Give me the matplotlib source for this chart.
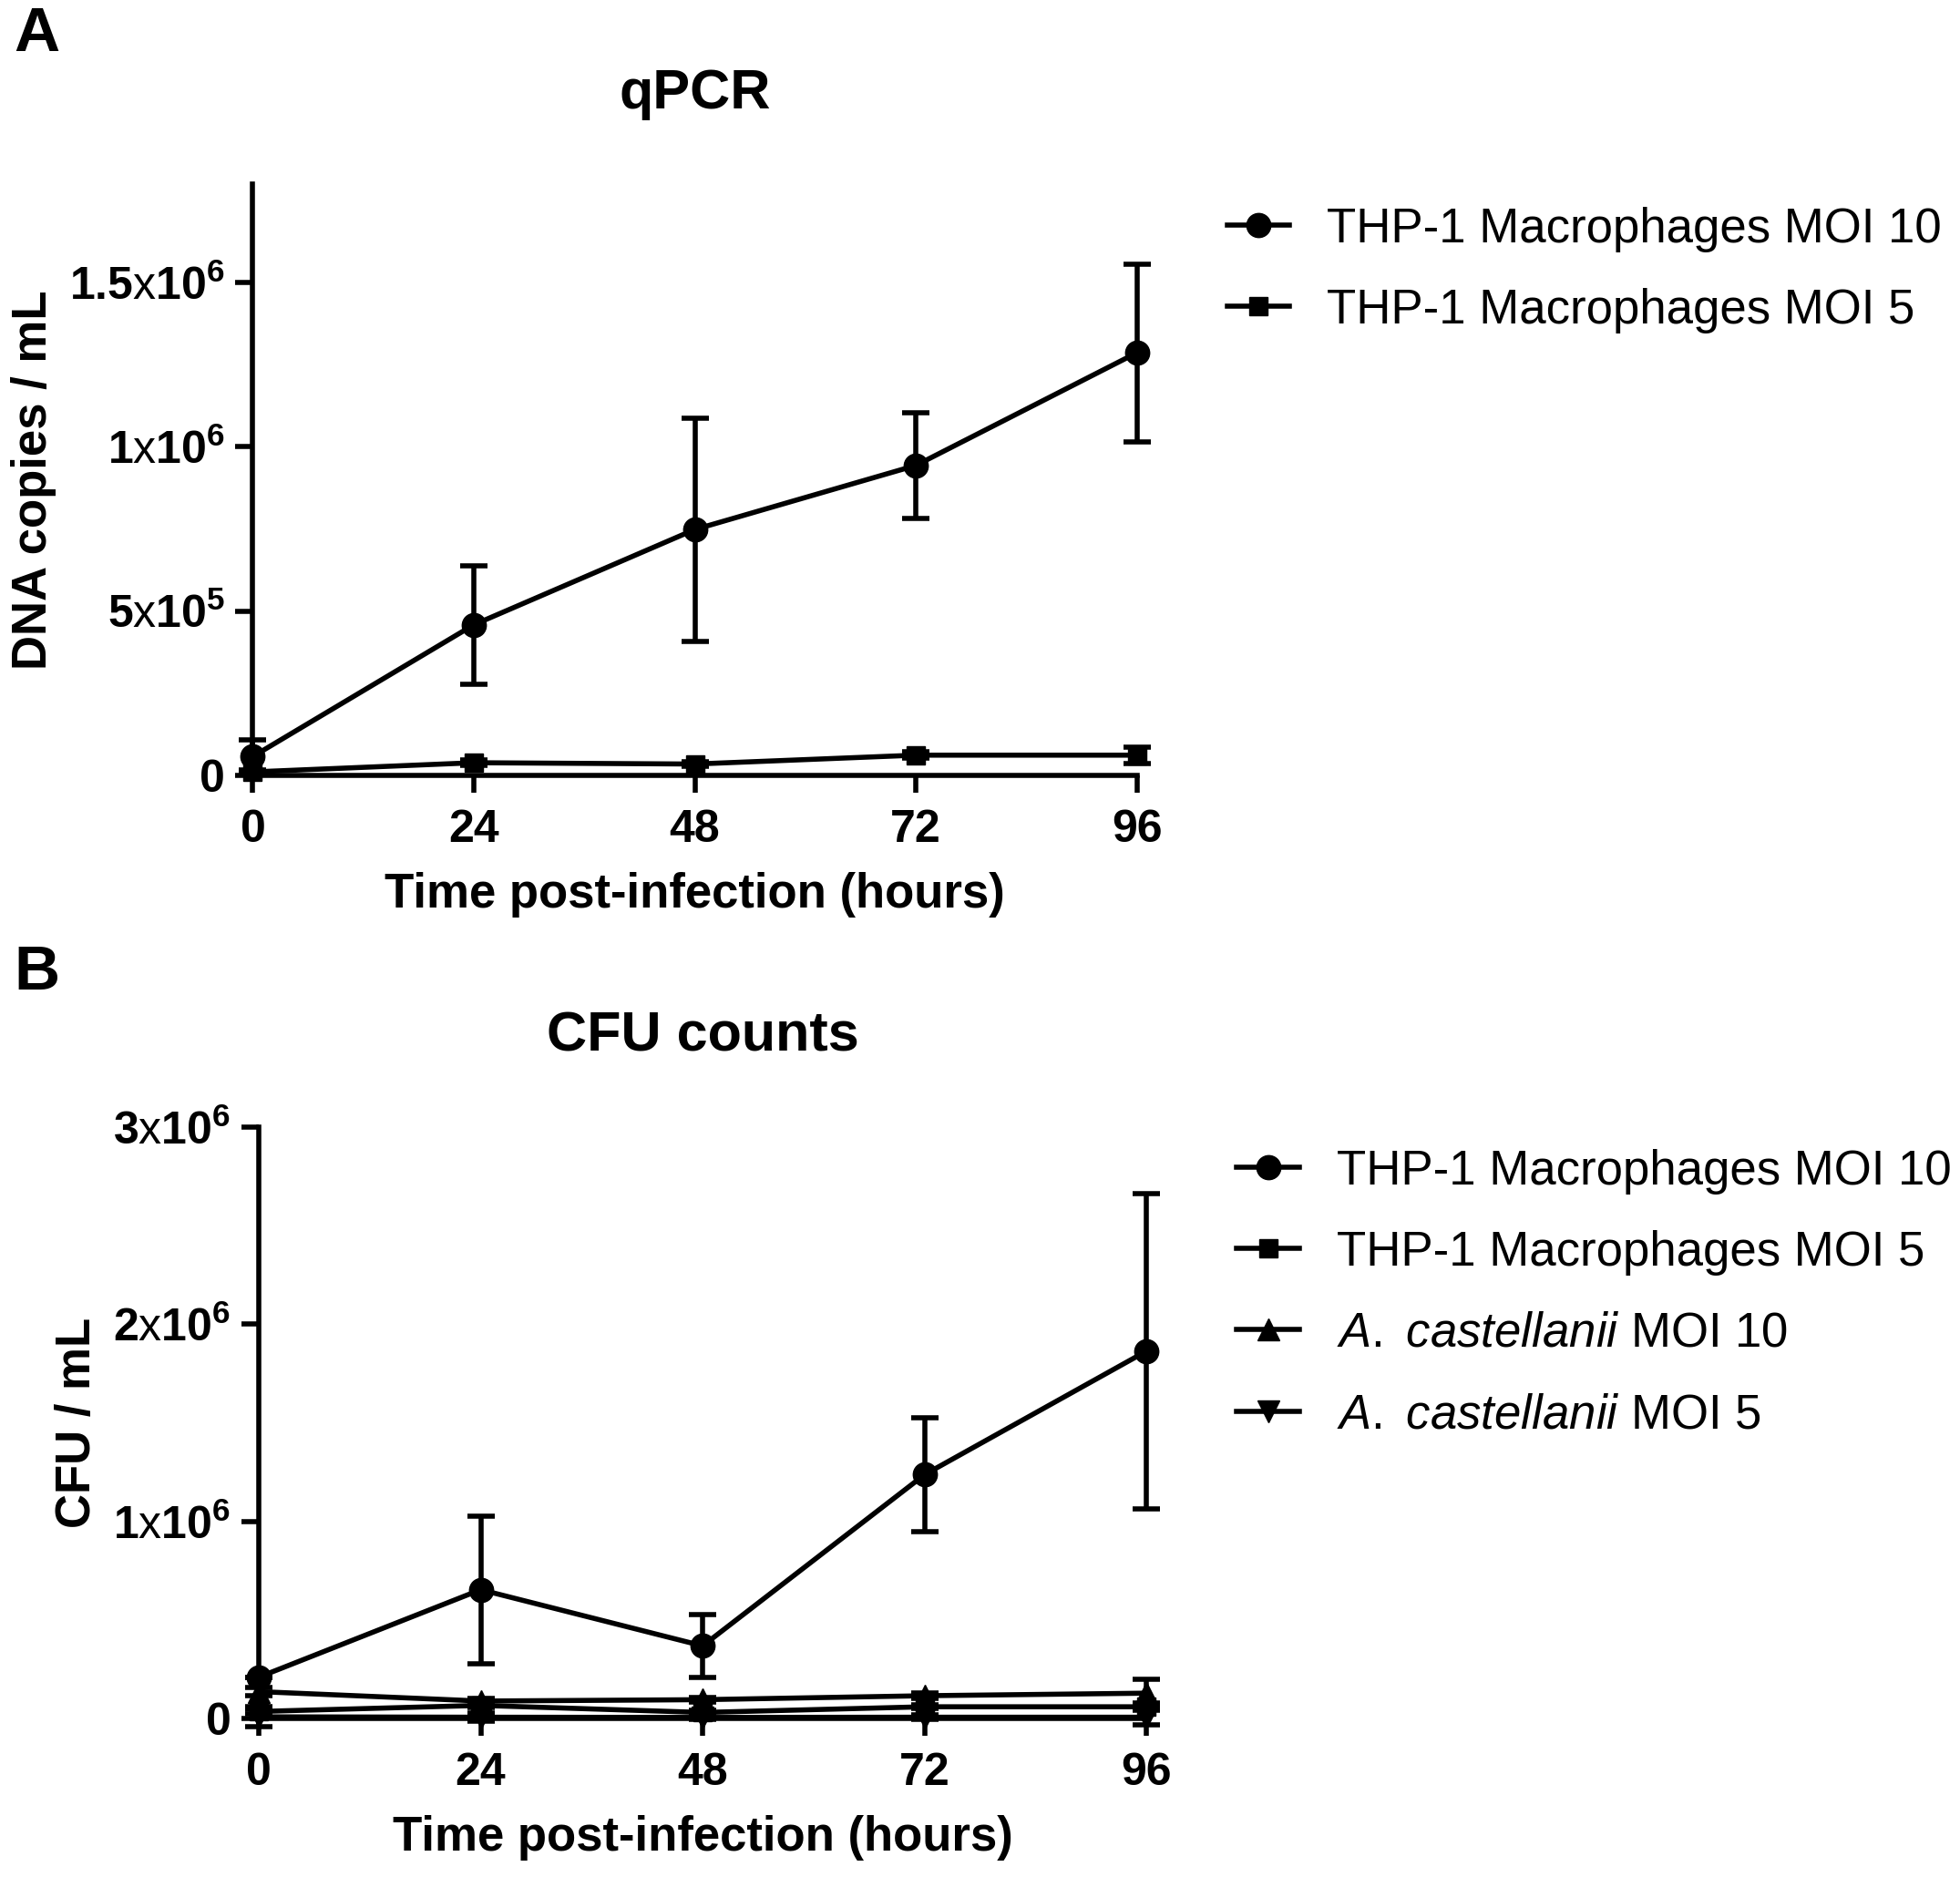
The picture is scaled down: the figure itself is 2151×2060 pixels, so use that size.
import matplotlib
matplotlib.use('Agg')
import matplotlib.pyplot as plt
import numpy as np

plt.rcParams['font.family'] = ['Liberation Sans', 'DejaVu Sans']
plt.rcParams['mathtext.fontset'] = 'custom'
plt.rcParams['mathtext.rm'] = 'Liberation Sans'
plt.rcParams['mathtext.it'] = 'Liberation Sans:italic'
plt.rcParams['mathtext.bf'] = 'Liberation Sans:bold'

# ---------------- data ----------------
hours = [0, 24, 48, 72, 96]

# qPCR (DNA copies / mL)
qpcr_moi10 = [57e3, 458e3, 748e3, 943e3, 1.286e6]
qpcr_moi10_err = [50e3, 180e3, 340e3, 160e3, 270e3]
qpcr_moi5 = [10e3, 38e3, 34e3, 61e3, 61e3]
qpcr_moi5_err = [5e3, 8e3, 8e3, 10e3, 25e3]

# CFU counts (CFU / mL)
cfu_mac10 = [209e3, 653e3, 368e3, 1.237e6, 1.864e6]
cfu_mac10_err = [0, 375e3, 160e3, 290e3, 800e3]
cfu_mac5 = [35e3, 66e3, 30e3, 59e3, 59e3]
cfu_mac5_err = [10e3, 10e3, 10e3, 10e3, 20e3]
cfu_ac10 = [136e3, 88e3, 95e3, 115e3, 128e3]
cfu_ac10_err = [20e3, 15e3, 10e3, 15e3, 70e3]
cfu_ac5 = [8e3, 6e3, 5e3, 6e3, 6e3]
cfu_ac5_err = [50e3, 20e3, 10e3, 10e3, 40e3]

qpcr_labels = ['THP-1 Macrophages MOI 10', 'THP-1 Macrophages MOI 5']
cfu_labels = ['THP-1 Macrophages MOI 10', 'THP-1 Macrophages MOI 5',
              r'$\mathit{A.}$ $\mathit{castellanii}$ MOI 10',
              r'$\mathit{A.}$ $\mathit{castellanii}$ MOI 5']

qpcr_yticks = [0, 5e5, 1e6, 1.5e6]
cfu_yticks = [0, 1e6, 2e6, 3e6]


def tick_label(mant, exp):
    if mant == '0':
        return '0'
    return r'$\mathbf{%s}\mathrm{x}\mathbf{10^{%s}}$' % (mant, exp)


qpcr_yticklabels = ['0', tick_label('5', '5'), tick_label('1', '6'), tick_label('1.5', '6')]
cfu_yticklabels = ['0', tick_label('1', '6'), tick_label('2', '6'), tick_label('3', '6')]

LW = 4
fig = plt.figure(figsize=(21.51, 20.60), dpi=100)


def style_axes(ax, yticks, yticklabels, ymax, ylabel, title):
    ax.set_xlim(0, 96)
    ax.set_ylim(0, ymax)
    ax.set_xticks(hours)
    ax.set_xticklabels([str(h) for h in hours], fontsize=36, fontweight='bold')
    ax.set_yticks(yticks)
    ax.set_yticklabels(yticklabels, fontsize=36, fontweight='bold')
    for s in ['top', 'right']:
        ax.spines[s].set_visible(False)
    for s in ['left', 'bottom']:
        ax.spines[s].set_linewidth(LW)
    ax.tick_params(width=LW, length=14, pad=8)
    ax.tick_params(axis='x', pad=13)
    ax.set_xlabel('Time post-infection (hours)', fontsize=38, fontweight='bold', labelpad=16)
    ax.set_ylabel(ylabel, fontsize=38, fontweight='bold', labelpad=10)
    ax.set_title(title, fontsize=44, fontweight='bold', pad=60)


def series(ax, y, err, marker, ms, label):
    ax.errorbar(hours, y, yerr=err, color='black', lw=LW, marker=marker, ms=ms,
                capsize=11, capthick=LW, elinewidth=LW, clip_on=False, label=label, zorder=3)


legend_kw = dict(loc='upper left', bbox_transform=fig.transFigure, frameon=False, fontsize=38,
                 handlelength=1.3, handletextpad=0.78, labelspacing=0.74)

# ---------------- panel A ----------------
axA = fig.add_axes([0.129, 0.587, 0.451, 0.315])
series(axA, qpcr_moi10, qpcr_moi10_err, 'o', 19, qpcr_labels[0])
series(axA, qpcr_moi5, qpcr_moi5_err, 's', 14, qpcr_labels[1])
style_axes(axA, qpcr_yticks, qpcr_yticklabels, 1.8e6, 'DNA copies / mL', 'qPCR')
hA, lA = axA.get_legend_handles_labels()
axA.legend([h[0] for h in hA], lA, bbox_to_anchor=(0.604, 0.913), **legend_kw)

# ---------------- panel B ----------------
axB = fig.add_axes([0.132, 0.0845, 0.453, 0.315])
series(axB, cfu_mac10, cfu_mac10_err, 'o', 19, cfu_labels[0])
series(axB, cfu_mac5, cfu_mac5_err, 's', 14, cfu_labels[1])
series(axB, cfu_ac10, cfu_ac10_err, '^', 17, cfu_labels[2])
series(axB, cfu_ac5, cfu_ac5_err, 'v', 17, cfu_labels[3])
style_axes(axB, cfu_yticks, cfu_yticklabels, 3e6, 'CFU / mL', 'CFU counts')
hB, lB = axB.get_legend_handles_labels()
axB.legend([h[0] for h in hB], lB, bbox_to_anchor=(0.609, 0.411), **legend_kw)

fig.text(0.007, 0.997, 'A', fontsize=50, fontweight='bold', va='top')
fig.text(0.007, 0.497, 'B', fontsize=50, fontweight='bold', va='top')

fig.savefig('out.png', dpi=100)
